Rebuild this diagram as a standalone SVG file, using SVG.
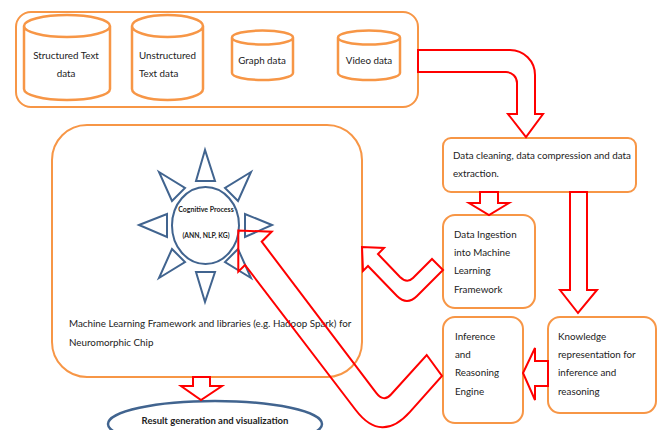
<svg xmlns="http://www.w3.org/2000/svg" width="664" height="430" viewBox="0 0 664 430">
<style>
.box{fill:#fff;stroke:#f79646;stroke-width:2}
.cyl{fill:#fff;stroke:#f79646;stroke-width:2.5}
.sun{fill:#fff;stroke:#41648f;stroke-width:2;stroke-linejoin:miter}
.arr{fill:none;stroke:#ff0000;stroke-width:2;stroke-linejoin:miter}
.t{font-family:Lato,"Liberation Sans",sans-serif;font-size:9.8px;fill:#222}
.c{text-anchor:middle}
.b{font-weight:bold}
</style>
<rect width="664" height="430" fill="#fff"/>
<g id="sources">
<rect class="box" x="16" y="12" width="402" height="95" rx="15"/>
</g>
<g id="structured-text">
<path class="cyl" d="M24,26 V89 A43,11 0 0 0 110,89 V26 A43,11 0 0 0 24,26 A43,11 0 0 0 110,26"/>
<text class="t c" x="66" y="58.5">Structured Text</text>
<text class="t c" x="66" y="76.5">data</text>
</g>
<g id="unstructured-text">
<path class="cyl" d="M132,26 V89 A35.5,11 0 0 0 203,89 V26 A35.5,11 0 0 0 132,26 A35.5,11 0 0 0 203,26"/>
<text class="t" x="139" y="58.5">Unstructured</text>
<text class="t" x="139" y="76.5">Text data</text>
</g>
<g id="graph-data">
<path class="cyl" d="M232,37.5 V73 A30.5,7 0 0 0 293,73 V37.5 A30.5,7 0 0 0 232,37.5 A30.5,7 0 0 0 293,37.5"/>
<text class="t c" x="262" y="63.5">Graph data</text>
</g>
<g id="video-data">
<path class="cyl" d="M338,37.5 V73 A31,7 0 0 0 400,73 V37.5 A31,7 0 0 0 338,37.5 A31,7 0 0 0 400,37.5"/>
<text class="t c" x="369" y="63.5">Video data</text>
</g>
<g id="data-cleaning">
<rect class="box" x="443" y="138" width="193" height="54" rx="8"/>
<text class="t" x="453" y="158.5">Data cleaning, data compression and data</text>
<text class="t" x="453" y="176.5">extraction.</text>
</g>
<g id="data-ingestion">
<rect class="box" x="443" y="215" width="92" height="93" rx="12"/>
<text class="t" x="454" y="237.5">Data Ingestion</text>
<text class="t" x="454" y="255.5">into Machine</text>
<text class="t" x="454" y="274">Learning</text>
<text class="t" x="454" y="292.5">Framework</text>
</g>
<g id="inference-engine">
<rect class="box" x="443" y="317" width="80" height="106" rx="12"/>
<text class="t" x="455" y="339.5">Inference</text>
<text class="t" x="455" y="357.5">and</text>
<text class="t" x="455" y="376">Reasoning</text>
<text class="t" x="455" y="395">Engine</text>
</g>
<g id="knowledge-representation">
<rect class="box" x="548" y="317" width="108" height="96" rx="12"/>
<text class="t" x="558" y="339.5">Knowledge</text>
<text class="t" x="558" y="357.5">representation for</text>
<text class="t" x="558" y="376">inference and</text>
<text class="t" x="558" y="395">reasoning</text>
</g>
<g id="ml-framework">
<rect class="box" x="52" y="125" width="310" height="252" rx="35"/>
<text class="t" x="69" y="327">Machine Learning Framework and libraries (e.g. Hadoop Spark) for</text>
<text class="t" x="69" y="345.5">Neuromorphic Chip</text>
</g>
<g id="cognitive-process">
<polygon class="sun" points="205,150 196,181 215,181"/>
<polygon class="sun" points="205,302 196,272 215,272"/>
<polygon class="sun" points="139,225 167,214 167,237"/>
<polygon class="sun" points="272,225 245,214 245,237"/>
<polygon class="sun" points="159,172 185,188 172,201"/>
<polygon class="sun" points="251,172 225,188 238,201"/>
<polygon class="sun" points="159,278 185,262 172,249"/>
<polygon class="sun" points="251,278 225,262 238,249"/>
<ellipse class="sun" cx="205.5" cy="225.5" rx="33.5" ry="38.5"/>
<text class="t c b" x="206" y="212" style="font-size:7px">Cognitive Process</text>
<text class="t c b" x="206" y="237.5" style="font-size:6.8px">(ANN, NLP, KG)</text>
</g>
<g id="result-visualization">
<ellipse cx="215" cy="424" rx="107" ry="23" fill="#fff" stroke="#41648f" stroke-width="2.5"/>
<text class="t c b" x="215" y="423.5" style="font-size:9.5px">Result generation and visualization</text>
</g>
<g id="connectors">
<path class="arr" d="M418,50 H510 A25,25 0 0 1 535,75 V114 H543 L526,137 L508,114 H517 V83 A11,11 0 0 0 506,72 H418 Z"/>
<path class="arr" d="M480,192 V203 H469 L489,215 L509,203 H498 V192 Z"/>
<path class="arr" d="M570,192 V290 H560 L578,313 L597,290 H587 V192 Z"/>
<path class="arr" d="M548,361 H535 V348 L523,373 L535,400 V386 H548 Z"/>
<path class="arr" d="M378,254 L400,277 Q407,284 413,278 L432,259 L443,270 L417,296 Q407,306 397,296 L368,266 L363,271 L362,247 L384,248 Z"/>
<path class="arr" d="M261.7,241.7 L376,392.6 Q383.7,402.7 391,394.5 L426.7,355 L442,376 L410,411.9 Q381.4,443.7 355.7,410 L245,265 L238.3,271.7 L238.3,230.5 L271.7,231.7 Z"/>
<path class="arr" d="M193,377 V386 H181 L201,400 L222,386 H210 V377 Z"/>
</g>
</svg>
